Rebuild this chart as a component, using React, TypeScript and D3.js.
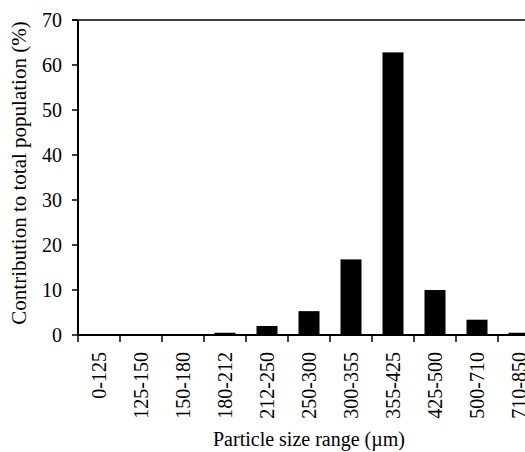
import React from "react";
import * as d3 from "d3";

const categories = ["0-125","125-150","150-180","180-212","212-250","250-300","300-355","355-425","425-500","500-710","710-850"];
const values = [0, 0.1, 0.1, 0.5, 2.0, 5.3, 16.8, 62.8, 10.0, 3.4, 0.5];
const yTicks = [0, 10, 20, 30, 40, 50, 60, 70];

const W = 525, H = 452;
const left = 78, top = 20, bottom = 335;
const step = 42;
const font = "'Liberation Serif', 'Times New Roman', serif";

export default function App() {
  const x = d3.scaleBand<string>().domain(categories).range([left, left + step * categories.length]).paddingInner(0.5).paddingOuter(0.25);
  const y = d3.scaleLinear().domain([0, 70]).range([bottom, top]);
  const s = x.step();
  return (
    <svg width={W} height={H} style={{ position: "absolute", left: 0, top: 0, background: "#fff" }}>
      <rect x={0} y={0} width={W} height={H} fill="#fff" />
      {categories.map((c, i) => (
        <rect key={c} x={x(c)!} y={y(values[i])} width={x.bandwidth()} height={y(0) - y(values[i])} fill="#000" />
      ))}
      <line x1={left} x2={left} y1={top} y2={bottom} stroke="#000" strokeWidth={2} />
      <line x1={left - 6} x2={W} y1={top} y2={top} stroke="#000" strokeWidth={1.5} />
      <line x1={left} x2={W} y1={bottom} y2={bottom} stroke="#000" strokeWidth={2} />
      {yTicks.map(t => (
        <g key={t}>
          <line x1={left - 6} x2={left} y1={y(t)} y2={y(t)} stroke="#000" strokeWidth={1.5} />
          <text x={left - 16} y={y(t)} dy="0.35em" textAnchor="end" fontFamily={font} fontSize={20}>{t}</text>
        </g>
      ))}
      {categories.map(c => {
        const tx = (x(c)! - s * 0.25);
        return <line key={"t" + c} x1={tx} x2={tx} y1={bottom} y2={bottom + 7} stroke="#000" strokeWidth={1.5} />;
      })}
      {categories.map(c => {
        const cx = x(c)! + x.bandwidth() / 2;
        return (
          <text key={"l" + c} transform={`translate(${cx},352) rotate(-90)`} dy="0.35em" textAnchor="end" fontFamily={font} fontSize={20}>{c}</text>
        );
      })}
      <text x={309} y={446} textAnchor="middle" fontFamily={font} fontSize={20}>Particle size range (µm)</text>
      <text transform={`translate(19,173) rotate(-90)`} dy="0.35em" textAnchor="middle" fontFamily={font} fontSize={21}>Contribution to total population (%)</text>
    </svg>
  );
}
